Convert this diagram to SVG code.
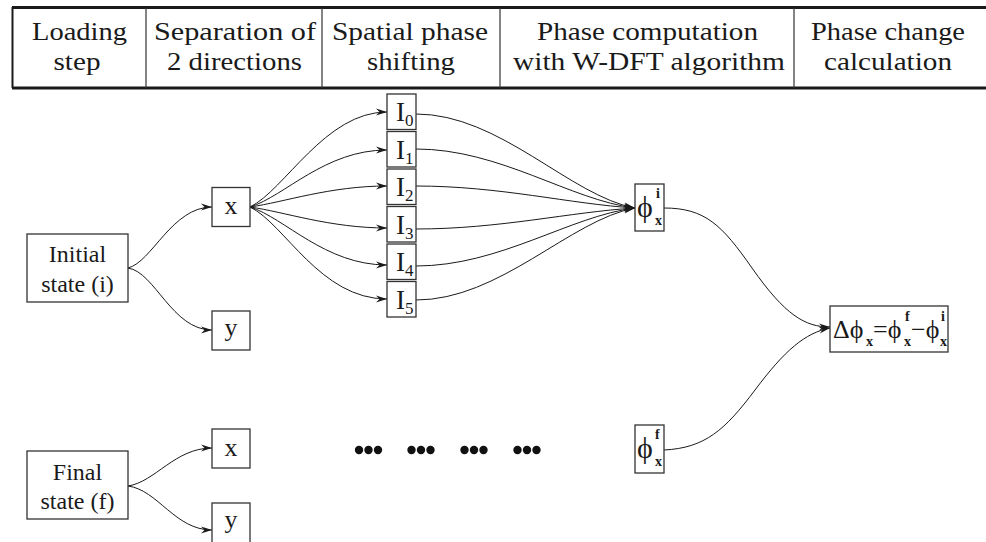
<svg xmlns="http://www.w3.org/2000/svg" width="986" height="542" viewBox="0 0 986 542">
<defs>
<style>
.hd{font-family:"Liberation Serif","Times New Roman",serif;font-size:25px;fill:#1a1a1a;text-anchor:middle}
.tx{font-family:"Liberation Serif","Times New Roman",serif;font-size:24px;fill:#1a1a1a;text-anchor:middle}
.il{font-family:"Liberation Serif","Times New Roman",serif;font-size:27px;fill:#1a1a1a}
.sb{font-size:17px}
.ph{font-family:"Liberation Serif","Times New Roman",serif;font-size:30px;fill:#1a1a1a}
.pd{font-family:"Liberation Serif","Times New Roman",serif;font-size:26px;fill:#1a1a1a}
.bs{font-size:14px;font-weight:bold}
.box{fill:#fff;stroke:#333;stroke-width:1.3}
.ca{fill:none;stroke:#1a1a1a;stroke-width:1;marker-end:url(#ah)}
.dot{fill:#111}
</style>
<marker id="ah" markerWidth="12" markerHeight="8" refX="11" refY="4" orient="auto" markerUnits="userSpaceOnUse">
<path d="M0,0.5 L11,4 L0,7.5 L3.5,4 Z" fill="#1a1a1a"/>
</marker>
</defs>

<g id="header">
<line x1="12" y1="7.5" x2="986" y2="7.5" stroke="#1a1a1a" stroke-width="3"/>
<line x1="12" y1="88" x2="986" y2="88" stroke="#1a1a1a" stroke-width="3"/>
<line x1="12.5" y1="7" x2="12.5" y2="88" stroke="#1a1a1a" stroke-width="2"/>
<line x1="146" y1="8" x2="146" y2="88" stroke="#333" stroke-width="1.2"/>
<line x1="322" y1="8" x2="322" y2="88" stroke="#333" stroke-width="1.2"/>
<line x1="500" y1="8" x2="500" y2="88" stroke="#333" stroke-width="1.2"/>
<line x1="794" y1="8" x2="794" y2="88" stroke="#333" stroke-width="1.2"/>
<text class="hd" x="79.5" y="40" textLength="95" lengthAdjust="spacingAndGlyphs">Loading</text>
<text class="hd" x="77" y="70" textLength="47" lengthAdjust="spacingAndGlyphs">step</text>
<text class="hd" x="235" y="40" textLength="162" lengthAdjust="spacingAndGlyphs">Separation of</text>
<text class="hd" x="234.5" y="70" textLength="135" lengthAdjust="spacingAndGlyphs">2 directions</text>
<text class="hd" x="410" y="40" textLength="156" lengthAdjust="spacingAndGlyphs">Spatial phase</text>
<text class="hd" x="411" y="70" textLength="88" lengthAdjust="spacingAndGlyphs">shifting</text>
<text class="hd" x="647.5" y="40" textLength="221" lengthAdjust="spacingAndGlyphs">Phase computation</text>
<text class="hd" x="649" y="70" textLength="272" lengthAdjust="spacingAndGlyphs">with W-DFT algorithm</text>
<text class="hd" x="888" y="40" textLength="154" lengthAdjust="spacingAndGlyphs">Phase change</text>
<text class="hd" x="888" y="70" textLength="128" lengthAdjust="spacingAndGlyphs">calculation</text>
</g>

<g id="connectors">
<path class="ca" d="M128,268 C152,262 172,207 212,207"/>
<path class="ca" d="M128,268 C155,272 172,330 212,330"/>
<path class="ca" d="M128,486 C155,482 175,448 212,448"/>
<path class="ca" d="M128,486 C158,490 175,530 212,530"/>
<path class="ca" d="M250,207 C285,190 325,112 387,112"/>
<path class="ca" d="M250,207 C285,196 325,150 387,150"/>
<path class="ca" d="M250,207 C285,202 330,186 387,186"/>
<path class="ca" d="M250,207 C285,212 330,228 387,228"/>
<path class="ca" d="M250,207 C285,218 325,265 387,265"/>
<path class="ca" d="M250,207 C285,224 320,299 387,299"/>
<path class="ca" d="M416,114 C500,114 570,196 635,208"/>
<path class="ca" d="M416,149 C500,149 570,200 635,208"/>
<path class="ca" d="M416,186 C500,186 570,204 635,208"/>
<path class="ca" d="M416,229 C500,229 570,212 635,208"/>
<path class="ca" d="M416,266 C500,266 570,216 635,208"/>
<path class="ca" d="M416,300 C500,300 570,220 635,208"/>
<path class="ca" d="M664,208 C705,208 722,225 752,268 C785,315 805,327 830,327"/>
<path class="ca" d="M664,450 C705,448 725,430 755,390 C785,350 805,333 830,328"/>
</g>

<g id="initial-state">
<rect class="box" x="27" y="234" width="101" height="68"/>
<text class="tx" x="77.5" y="262">Initial</text>
<text class="tx" x="77.5" y="292">state (i)</text>
</g>
<g id="x-initial">
<rect class="box" x="212" y="187.5" width="38" height="39"/>
<text class="tx" x="231" y="214" style="font-size:26px">x</text>
</g>
<g id="y-initial">
<rect class="box" x="212" y="311" width="38" height="39"/>
<text class="tx" x="231" y="336" style="font-size:26px">y</text>
</g>

<g id="final-state">
<rect class="box" x="27" y="451" width="101" height="68"/>
<text class="tx" x="77.5" y="480">Final</text>
<text class="tx" x="77.5" y="509">state (f)</text>
</g>
<g id="x-final">
<rect class="box" x="212" y="429" width="38" height="39"/>
<text class="tx" x="231" y="456" style="font-size:26px">x</text>
</g>
<g id="y-final">
<rect class="box" x="212" y="503" width="38" height="45"/>
<text class="tx" x="231" y="528" style="font-size:26px">y</text>
</g>

<g id="I0"><rect class="box" x="387" y="94" width="29" height="35.5"/><text class="il" x="396" y="121">I<tspan class="sb" dy="5">0</tspan></text></g>
<g id="I1"><rect class="box" x="387" y="131.5" width="29" height="35.5"/><text class="il" x="396" y="158.5">I<tspan class="sb" dy="5">1</tspan></text></g>
<g id="I2"><rect class="box" x="387" y="169" width="29" height="35.5"/><text class="il" x="396" y="196">I<tspan class="sb" dy="5">2</tspan></text></g>
<g id="I3"><rect class="box" x="387" y="206.5" width="29" height="35.5"/><text class="il" x="396" y="233.5">I<tspan class="sb" dy="5">3</tspan></text></g>
<g id="I4"><rect class="box" x="387" y="244" width="29" height="35.5"/><text class="il" x="396" y="271">I<tspan class="sb" dy="5">4</tspan></text></g>
<g id="I5"><rect class="box" x="387" y="281.5" width="29" height="35.5"/><text class="il" x="396" y="308.5">I<tspan class="sb" dy="5">5</tspan></text></g>

<g id="phi-i">
<rect class="box" x="635" y="184" width="29" height="47"/>
<text class="ph"><tspan x="637" y="217">ϕ</tspan><tspan class="bs" x="656" y="198">i</tspan><tspan class="bs" x="655" y="225">x</tspan></text>
</g>
<g id="phi-f">
<rect class="box" x="635" y="425" width="29" height="48"/>
<text class="ph"><tspan x="637" y="458">ϕ</tspan><tspan class="bs" x="655" y="439">f</tspan><tspan class="bs" x="655" y="466">x</tspan></text>
</g>
<g id="delta">
<rect class="box" x="830" y="306" width="118" height="46"/>
<text class="pd"><tspan x="833" y="338">Δϕ</tspan><tspan class="bs" x="866" y="346">x</tspan><tspan x="873" y="338">=ϕ</tspan><tspan class="bs" x="905" y="321">f</tspan><tspan class="bs" x="904" y="346">x</tspan><tspan x="911" y="338">−ϕ</tspan><tspan class="bs" x="941" y="321">i</tspan><tspan class="bs" x="940" y="346">x</tspan></text>
</g>

<g id="ellipsis">
<circle class="dot" cx="359" cy="450" r="4.2"/><circle class="dot" cx="368.5" cy="450" r="4.2"/><circle class="dot" cx="378" cy="450" r="4.2"/>
<circle class="dot" cx="411.5" cy="450" r="4.2"/><circle class="dot" cx="421" cy="450" r="4.2"/><circle class="dot" cx="430.5" cy="450" r="4.2"/>
<circle class="dot" cx="464.5" cy="450" r="4.2"/><circle class="dot" cx="474" cy="450" r="4.2"/><circle class="dot" cx="483.5" cy="450" r="4.2"/>
<circle class="dot" cx="517.5" cy="450" r="4.2"/><circle class="dot" cx="527" cy="450" r="4.2"/><circle class="dot" cx="536.5" cy="450" r="4.2"/>
</g>
</svg>
